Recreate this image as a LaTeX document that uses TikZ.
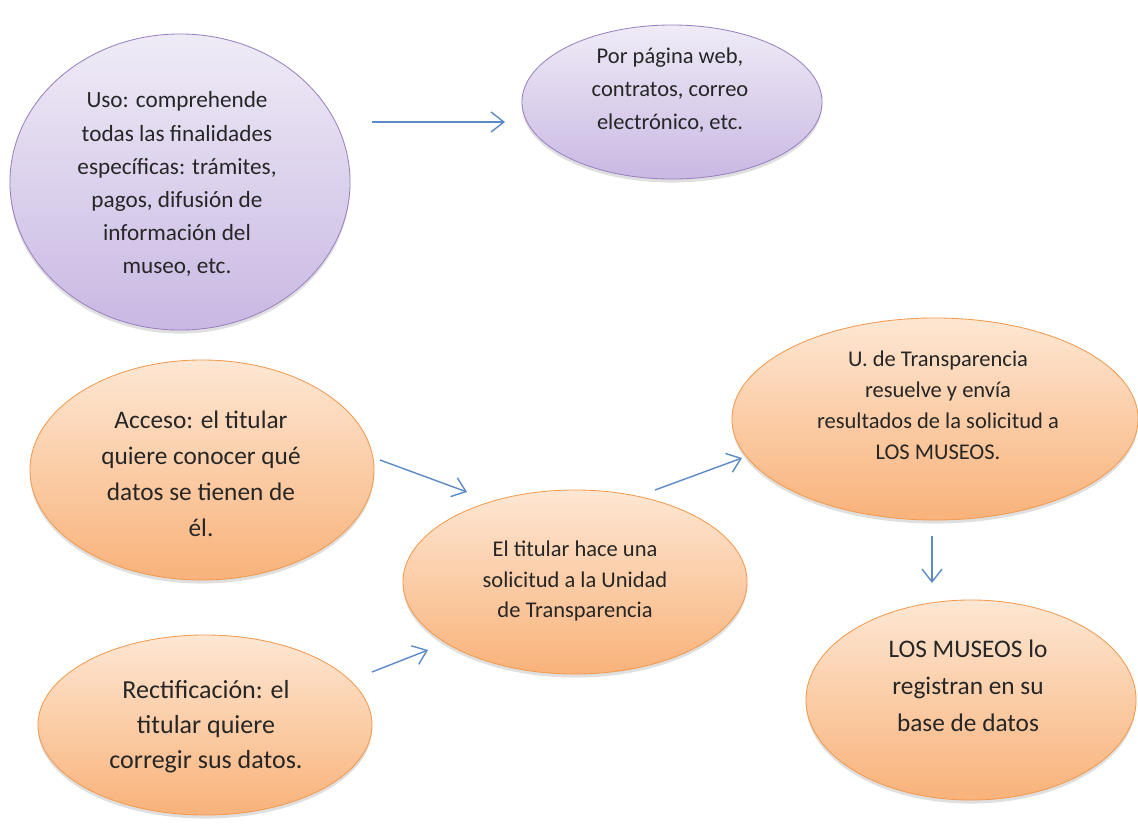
\documentclass[tikz,border=0pt]{standalone}
\usepackage{fontspec}
\setmainfont{Carlito}
\usetikzlibrary{shapes.geometric,arrows.meta,shadows}
\definecolor{LilaTop}{HTML}{EFEBF6}
\definecolor{LilaBot}{HTML}{C9B8E3}
\definecolor{LilaLine}{HTML}{9A82C2}
\definecolor{NaranjaTop}{HTML}{FDE7D3}
\definecolor{NaranjaBot}{HTML}{F9B27A}
\definecolor{NaranjaLine}{HTML}{F29A4E}
\definecolor{Flecha}{HTML}{5B8BC6}
\tikzset{
    oval/.style={ellipse, line width=0.6pt,
        drop shadow={opacity=0.25, shadow xshift=0pt, shadow yshift=-2.5pt}},
    lila/.style={oval, draw=LilaLine, top color=LilaTop, bottom color=LilaBot},
    naranja/.style={oval, draw=NaranjaLine, top color=NaranjaTop, bottom color=NaranjaBot},
    txt/.style 2 args={align=center, text=black!85, font=\fontsize{#1}{#2}\selectfont},
    flecha/.style={draw=Flecha, line width=1pt, -{Straight Barb[length=3.2mm,width=5mm]}},
}
% name, x, y, width, height, style
\newcommand\Oval[6]{%
    \node[#6, minimum width=#4, minimum height=#5] (#1) at (#2,#3) {};
}

\begin{document}
\begin{tikzpicture}[x=0.025cm, y=-0.025cm]
    \useasboundingbox (0,0) rectangle (1138,825);
    % finalidades
    \Oval{uso}{180}{182}{8.5cm}{7.4cm}{lila}
    \Oval{web}{672}{102}{7.5cm}{3.85cm}{lila}
    % derechos
    \Oval{acceso}{202}{470}{8.6cm}{5.5cm}{naranja}
    \Oval{rect}{205}{725}{8.35cm}{4.5cm}{naranja}
    \Oval{solicitud}{575}{582}{8.6cm}{4.6cm}{naranja}
    \Oval{unidad}{935}{419}{10.15cm}{5.05cm}{naranja}
    \Oval{museos}{971}{700}{8.25cm}{5cm}{naranja}

    \node[txt={16.5}{23.5}] (uso-t) at (177,184) {Uso: comprehende\\todas las finalidades\\específicas: trámites,\\pagos, difusión de\\información del\\museo, etc.};
    \node[txt={16}{23.5}] (web-t) at (670,90) {Por página web,\\contratos, correo\\electrónico, etc.};
    \node[txt={18}{25.6}] (acceso-t) at (201,474) {Acceso: el titular\\quiere conocer qué\\datos se tienen de\\él.};
    \node[txt={18.5}{25}] (rect-t) at (206,727) {Rectificación: el\\titular quiere\\corregir sus datos.};
    \node[txt={16}{22}] (solicitud-t) at (575,581) {El titular hace una\\solicitud a la Unidad\\de Transparencia};
    \node[txt={16}{22}] (unidad-t) at (938,405) {U. de Transparencia\\resuelve y envía\\resultados de la solicitud a\\LOS MUSEOS.};
    \node[txt={18}{26.3}] (museos-t) at (968,686) {LOS MUSEOS lo\\registran en su\\base de datos};

    \coordinate (a1) at (372,122); \coordinate (b1) at (505,122);
    \coordinate (a2) at (380,460); \coordinate (b2) at (467,492);
    \coordinate (a3) at (372,672); \coordinate (b3) at (428,650);
    \coordinate (a4) at (655,490); \coordinate (b4) at (742,458);
    \coordinate (a5) at (932,536); \coordinate (b5) at (932,583);
    \foreach \i in {1,...,5}
        \draw[flecha] (a\i) -- (b\i);
\end{tikzpicture}
\end{document}
